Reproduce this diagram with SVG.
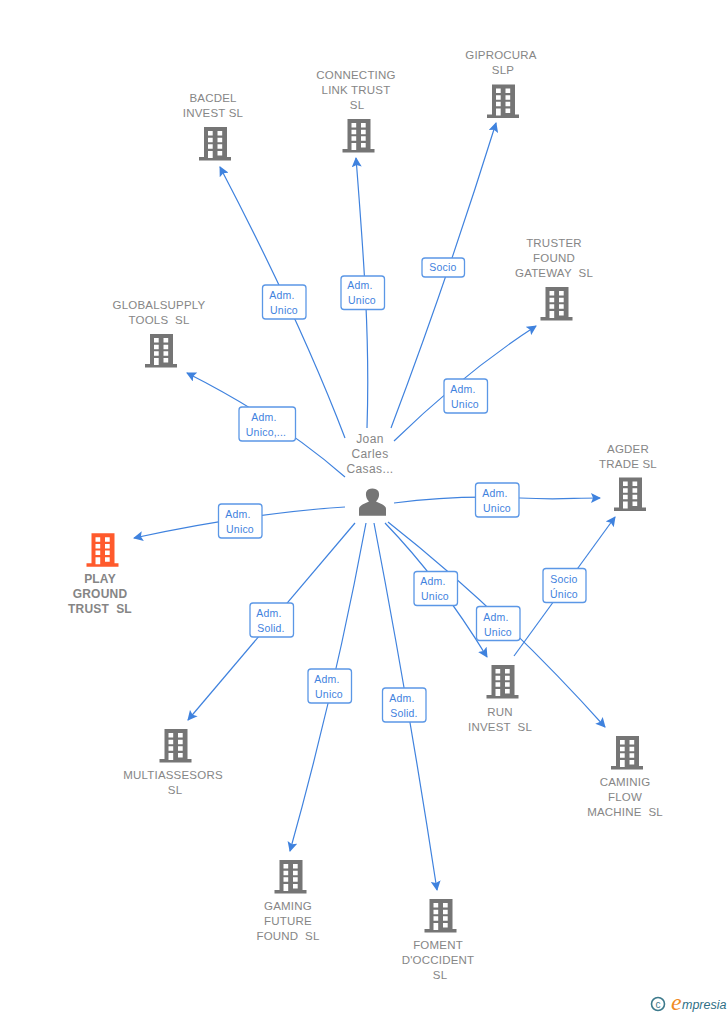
<svg xmlns="http://www.w3.org/2000/svg" width="728" height="1015" viewBox="0 0 728 1015">
<style>
.n{font:11.5px "Liberation Sans",Arial,sans-serif;fill:#868686;text-anchor:middle;letter-spacing:.2px}
.b{fill:#757575}
.w{fill:#fff}
.c{fill:none;stroke:#3f82de;stroke-width:1.2}
.h{fill:#3f82de}
.l rect{fill:#fff;stroke:#5b97e6;stroke-width:1.3}
.l text{font:10.5px "Liberation Sans",Arial,sans-serif;fill:#3f82de;text-anchor:middle;letter-spacing:.2px}
.p{font-weight:bold;font-size:12px;fill:#858585}
</style>
<defs>
<g id="bld">
<path d="M5 0H28V30H32V33.500H0V30H5Z"/>
<path class="w" d="M9 4h4.700v4.500H9zM18.500 4h4.700v4.500H18.500zM9 10.700h4.700v4.500H9zM18.500 10.700h4.700v4.500H18.500zM9 17.300h4.700v4.500H9zM18.500 17.300h4.700v4.500H18.500zM9 24h4.700v7H9zM18.500 24h4.700v4.500H18.500z"/>
</g>
<marker id="a" markerWidth="11" markerHeight="10" refX="9" refY="5" orient="auto" markerUnits="userSpaceOnUse"><path class="h" d="M0 0L10 5L0 10L2 5Z"/></marker>
</defs>
<g id="connectors">
<path class="c" marker-end="url(#a)" d="M345 438Q300 320 220 167"/>
<path class="c" marker-end="url(#a)" d="M367 428C370 340 364 260 356 158"/>
<path class="c" marker-end="url(#a)" d="M391 428Q447 280 496 123"/>
<path class="c" marker-end="url(#a)" d="M394 441Q465 372 536 326"/>
<path class="c" marker-end="url(#a)" d="M345 477Q280 420 187 373"/>
<path class="c" marker-end="url(#a)" d="M345 507Q250 513 134 538"/>
<path class="c" marker-end="url(#a)" d="M394 503C440 497 480 496 520 498S570 498 600 498"/>
<path class="c" marker-end="url(#a)" d="M355 523L188 720"/>
<path class="c" marker-end="url(#a)" d="M366 523Q335 690 290 851"/>
<path class="c" marker-end="url(#a)" d="M374 523Q408 700 437 890"/>
<path class="c" marker-end="url(#a)" d="M385 523Q440 580 487 657"/>
<path class="c" marker-end="url(#a)" d="M388 522Q500 610 605 727"/>
<path class="c" marker-end="url(#a)" d="M514 656L615 517"/>
</g>
<g class="l">
<g><rect x="262.500" y="285" width="43.500" height="34" rx="3"/><text x="282" y="299">Adm.</text><text x="284" y="314">Unico</text></g>
<g><rect x="341" y="276" width="43.500" height="33.500" rx="3"/><text x="360" y="289">Adm.</text><text x="362" y="304">Unico</text></g>
<g><rect x="422" y="258" width="42.500" height="19" rx="3"/><text x="443" y="271">Socio</text></g>
<g><rect x="444" y="379" width="43.500" height="34" rx="3"/><text x="463" y="393">Adm.</text><text x="465" y="408">Unico</text></g>
<g><rect x="239" y="407" width="56.500" height="34" rx="3"/><text x="264" y="421">Adm.</text><text x="266" y="436">Unico,...</text></g>
<g><rect x="218.500" y="504" width="43.500" height="34" rx="3"/><text x="238" y="518">Adm.</text><text x="240" y="533">Unico</text></g>
<g><rect x="475.500" y="483" width="43.500" height="34" rx="3"/><text x="495" y="497">Adm.</text><text x="497" y="512">Unico</text></g>
<g><rect x="250" y="603" width="43.500" height="34" rx="3"/><text x="269" y="617">Adm.</text><text x="271" y="632">Solid.</text></g>
<g><rect x="308" y="669" width="43.500" height="34" rx="3"/><text x="327" y="683">Adm.</text><text x="329" y="698">Unico</text></g>
<g><rect x="382.500" y="688" width="43.500" height="34" rx="3"/><text x="402" y="702">Adm.</text><text x="404" y="717">Solid.</text></g>
<g><rect x="414" y="571.500" width="43.500" height="34" rx="3"/><text x="433" y="585">Adm.</text><text x="435" y="600">Unico</text></g>
<g><rect x="476.500" y="606.500" width="43.500" height="34" rx="3"/><text x="496" y="621">Adm.</text><text x="498" y="636">Unico</text></g>
<g><rect x="543" y="568.500" width="43" height="34" rx="3"/><text x="564" y="583">Socio</text><text x="564" y="598">Único</text></g>
</g>
<g id="person">
<text class="n" style="font-size:12px;letter-spacing:.4px"><tspan x="370" y="443">Joan</tspan><tspan x="370" y="458">Carles</tspan><tspan x="370" y="473">Casas...</tspan></text>
<path class="b" d="M359 515.700V509C359 505 365 503.500 369 501.500C365.500 498 365.500 493 366.500 491.500C368 487.500 376.500 487.500 378.500 491.500C379.500 494 379.500 498 376 501.500C380 503.500 386 505 386 509V515.700Z"/>
</g>
<g id="play"><use href="#bld" x="86.500" y="533.300" style="fill:#ff5a2c"/><text class="n p"><tspan x="100" y="583">PLAY</tspan><tspan x="100" y="598">GROUND</tspan><tspan x="100" y="613">TRUST&#160; SL</tspan></text></g>
<g id="bacdel"><use href="#bld" x="199" y="127" class="b"/><text class="n"><tspan x="213" y="102">BACDEL</tspan><tspan x="213" y="117">INVEST SL</tspan></text></g>
<g id="connecting"><use href="#bld" x="342.500" y="119" class="b"/><text class="n"><tspan x="356" y="79">CONNECTING</tspan><tspan x="356" y="94">LINK TRUST</tspan><tspan x="357" y="109">SL</tspan></text></g>
<g id="giprocura"><use href="#bld" x="487" y="84.500" class="b"/><text class="n"><tspan x="501" y="59">GIPROCURA</tspan><tspan x="503" y="74">SLP</tspan></text></g>
<g id="truster"><use href="#bld" x="540.500" y="287" class="b"/><text class="n"><tspan x="554" y="247">TRUSTER</tspan><tspan x="554" y="262">FOUND</tspan><tspan x="554" y="277">GATEWAY&#160; SL</tspan></text></g>
<g id="globalsupply"><use href="#bld" x="145" y="334" class="b"/><text class="n"><tspan x="159" y="309">GLOBALSUPPLY</tspan><tspan x="159" y="324">TOOLS&#160; SL</tspan></text></g>
<g id="agder"><use href="#bld" x="614" y="477.500" class="b"/><text class="n"><tspan x="628" y="453">AGDER</tspan><tspan x="628" y="468">TRADE SL</tspan></text></g>
<g id="run"><use href="#bld" x="486.500" y="665" class="b"/><text class="n"><tspan x="500" y="716">RUN</tspan><tspan x="500" y="731">INVEST&#160; SL</tspan></text></g>
<g id="caminig"><use href="#bld" x="611" y="736" class="b"/><text class="n"><tspan x="625" y="786">CAMINIG</tspan><tspan x="625" y="801">FLOW</tspan><tspan x="625" y="816">MACHINE&#160; SL</tspan></text></g>
<g id="multiassesors"><use href="#bld" x="159.500" y="729" class="b"/><text class="n"><tspan x="173" y="779">MULTIASSESORS</tspan><tspan x="175" y="794">SL</tspan></text></g>
<g id="gaming"><use href="#bld" x="274.500" y="860" class="b"/><text class="n"><tspan x="288" y="910">GAMING</tspan><tspan x="288" y="925">FUTURE</tspan><tspan x="288" y="940">FOUND&#160; SL</tspan></text></g>
<g id="foment"><use href="#bld" x="424.500" y="899" class="b"/><text class="n"><tspan x="438" y="949">FOMENT</tspan><tspan x="438" y="964">D'OCCIDENT</tspan><tspan x="440" y="979">SL</tspan></text></g>
<g id="logo">
<circle cx="658" cy="1004" r="6.500" fill="none" stroke="#3d7a8c" stroke-width="1.600"/>
<text x="658" y="1007.500" font-family="Liberation Sans,sans-serif" font-size="10" fill="#3d7a8c" text-anchor="middle">c</text>
<text x="671" y="1010" font-family="Liberation Serif,serif" font-style="italic" font-size="24" fill="#f08a24">e</text>
<text x="682" y="1009" font-family="Liberation Sans,sans-serif" font-style="italic" font-size="12.500" fill="#2f6f86">mpresia</text>
</g>
</svg>
